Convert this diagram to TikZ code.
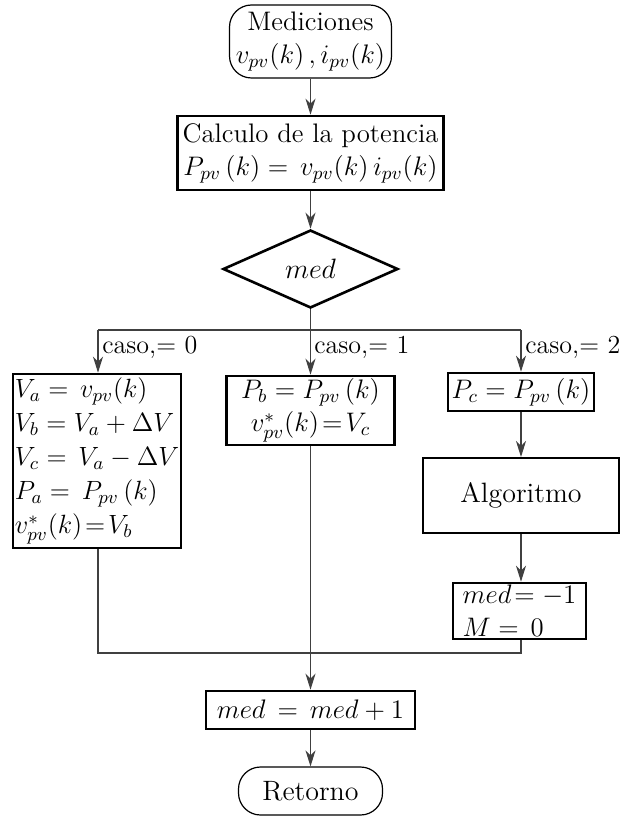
\RequirePackage{fix-cm}
\documentclass[tikz,border=0pt]{standalone}
\usetikzlibrary{shapes.geometric,arrows.meta}
\begin{document}
\begin{tikzpicture}[x=0.5pt,y=-0.5pt,
  every node/.style={font=\fontsize{13.4}{16.5}\selectfont, inner sep=1pt},
  term/.style={draw, line width=0.6pt, rounded corners=11pt},
  procbox/.style={draw, line width=1.3pt, inner sep=1pt},
  decbox/.style={draw, diamond, line width=1.3pt, inner sep=0pt},
  conn/.style={line width=0.6pt, draw=black!75},
  arr/.style={conn, -{Stealth[length=8pt,width=5pt,inset=2.5pt]}},
  lab/.style={anchor=west, inner sep=1pt, font=\fontsize{13}{15}\selectfont}
]
\useasboundingbox (0,0) rectangle (628,818);
\node[term, minimum width=81pt, minimum height=36.5pt, align=center, inner sep=0.5pt] (start) at (310.5,41.5)
  {Mediciones\\$v_{pv}(k)\,,i_{pv}(k)$};
\node[procbox, minimum width=133pt, minimum height=37pt, align=center] (calc) at (310.5,153)
  {Calculo de la potencia\\$P_{pv}\,(k) = \,v_{pv}(k)\,i_{pv}(k)$};
\node[decbox, minimum width=87.5pt, minimum height=39pt, font=\fontsize{14}{16}\selectfont] (dec) at (310.5,269) {$med$};
\coordinate (br) at (310.5,330);
\coordinate (brl) at (98,330);
\coordinate (brr) at (521,330);
\node[procbox, minimum width=84pt, minimum height=87pt, align=left, inner sep=0.5pt,
  font=\fontsize{13.2}{17}\selectfont] (c0) at (97,461)
  {$V_a = \,v_{pv}(k)$\\$V_b = V_a + \Delta V$\\$V_c = \,V_a - \Delta V$\\$P_a = \,P_{pv}\,(k)$\\$v_{pv}^{*}(k)\!=\!V_b$};
\node[procbox, minimum width=84pt, minimum height=34.5pt, align=center] (c1) at (310.5,410.5)
  {$P_b = P_{pv}\,(k)$\\$v_{pv}^{*}(k)\!=\!V_c$};
\node[procbox, minimum width=73pt, minimum height=19pt] (c2) at (521,392)
  {$P_c = P_{pv}\,(k)$};
\node[procbox, line width=1pt, minimum width=98pt, minimum height=37.5pt, font=\fontsize{14}{16}\selectfont] (alg) at (521,495.5)
  {Algoritmo};
\node[procbox, minimum width=66.5pt, minimum height=28pt, align=left, inner sep=0.5pt] (rst) at (519.5,611)
  {$med\!= -1$\\$M = \,0$};
\coordinate (ml) at (98,653);
\coordinate (mr) at (521,653);
\node[procbox, minimum width=104.5pt, minimum height=19pt] (inc) at (310.5,710)
  {$med\, = \,med + 1$};
\node[term, minimum width=72pt, minimum height=24pt, font=\fontsize{14}{16}\selectfont] (ret) at (310.5,791) {Retorno};

\draw[arr] (start) -- (calc);
\draw[arr] (calc) -- (dec);
\draw[conn] (dec.south) -- (br);
\draw[conn] (brl) -- (brr);
\draw[arr] (brl) -- (brl |- c0.north);
\draw[arr] (br) -- (br |- c1.north);
\draw[arr] (brr) -- (brr |- c2.north);
\node[lab] (l0) at (100,347) {caso,= 0};
\node[lab] (l1) at (312,347) {caso,= 1};
\node[lab] (l2) at (523,347) {caso,= 2};
\draw[arr] (c2) -- (alg);
\draw[arr] (alg) -- (alg.south |- rst.north);
\draw[conn] (c0.south -| brl) -- (ml) -- (mr) -- (mr |- rst.south);
\draw[arr] (c1.south -| br) -- (inc.north -| br);
\draw[arr] (inc) -- (ret);
\end{tikzpicture}
\end{document}
